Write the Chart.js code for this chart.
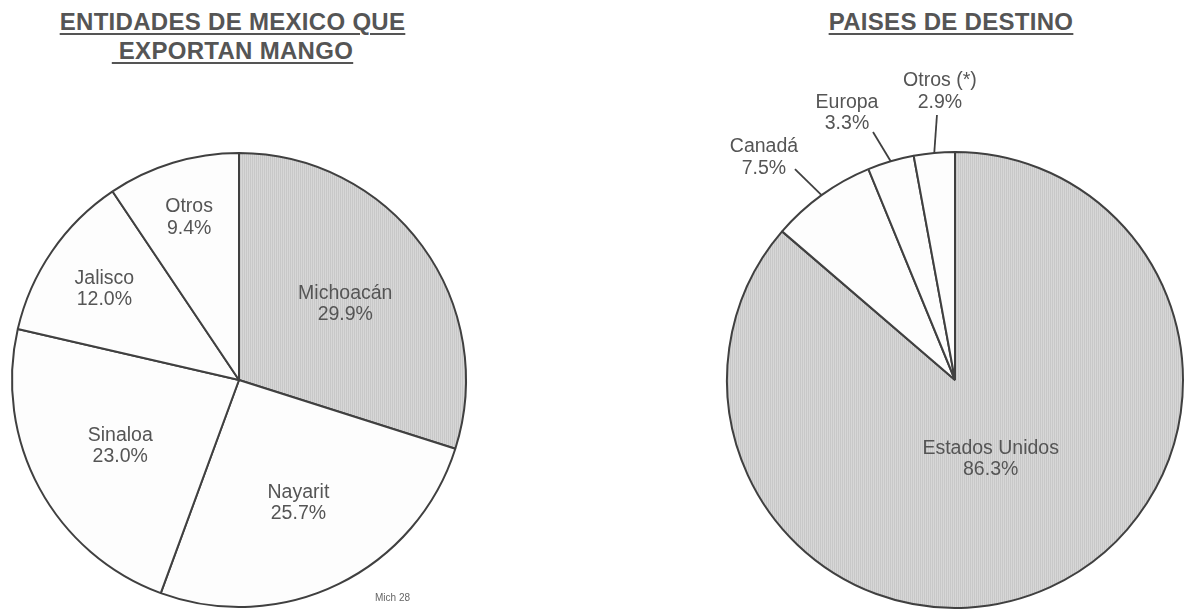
<!DOCTYPE html>
<html><head><meta charset="utf-8">
<script src="https://cdn.jsdelivr.net/npm/chart.js@4.4.0/dist/chart.umd.min.js"></script>
<style>
html,body{margin:0;padding:0;background:#fff;width:1185px;height:612px;overflow:hidden;position:relative;font-family:"Liberation Sans",Arial,sans-serif;}
canvas{position:absolute;top:0;}
.title{position:absolute;top:7px;font-weight:bold;font-size:24px;line-height:29px;letter-spacing:0.3px;color:#555;text-align:center;text-decoration:underline;text-decoration-thickness:2px;text-underline-offset:3px;white-space:pre;}
#note{position:absolute;left:375px;top:592px;font-size:10px;line-height:12px;color:#666;}
</style></head><body>
<div class="title" style="left:0;width:465px;">ENTIDADES DE MEXICO QUE<br> EXPORTAN MANGO</div>
<div class="title" style="left:717px;width:468px;">PAISES DE DESTINO</div>
<canvas id="c1" width="600" height="612" style="left:0"></canvas>
<canvas id="c2" width="585" height="612" style="left:600px"></canvas>
<div id="note">Mich 28</div>
<script>
// ---- data ----
const estados = ['Michoacán', 'Nayarit', 'Sinaloa', 'Jalisco', 'Otros'];
const estadosPct = [29.9, 25.7, 23.0, 12.0, 9.4];
const destinos = ['Estados Unidos', 'Canadá', 'Europa', 'Otros (*)'];
const destinosPct = [86.3, 7.5, 3.3, 2.9];

function stripes(ctx){
  const c = document.createElement('canvas'); c.width = 2; c.height = 1;
  const x = c.getContext('2d');
  x.fillStyle = '#c8c8c8'; x.fillRect(0,0,1,1);
  x.fillStyle = '#d7d7d7'; x.fillRect(1,0,1,1);
  return ctx.createPattern(c, 'repeat');
}
const WHITE = '#fdfdfd';

const labelPlugin = {
  id: 'sliceLabels',
  afterDatasetsDraw(chart, args, opts) {
    const ctx = chart.ctx;
    const meta = chart.getDatasetMeta(0);
    const labels = chart.data.labels;
    const values = chart.data.datasets[0].data;
    ctx.save();
    ctx.font = opts.font;
    ctx.fillStyle = opts.color;
    ctx.textAlign = 'center';
    ctx.textBaseline = 'alphabetic';
    meta.data.forEach((arc, i) => {
      const p = arc.getProps(['x','y','startAngle','endAngle','outerRadius'], true);
      const mid = (p.startAngle + p.endAngle) / 2;
      const ux = Math.cos(mid), uy = Math.sin(mid);
      const place = opts.placement[i];
      let cx, cy;
      if (place.outside) {
        const ax = p.x + ux * p.outerRadius, ay = p.y + uy * p.outerRadius;
        ctx.strokeStyle = opts.lineColor; ctx.lineWidth = opts.lineWidth;
        ctx.beginPath(); ctx.moveTo(ax, ay);
        ctx.lineTo(ax + place.leader[0], ay + place.leader[1]); ctx.stroke();
        cx = ax + place.text[0]; cy = ay + place.text[1];
      } else {
        cx = p.x + ux * p.outerRadius * place.r;
        cy = p.y + uy * p.outerRadius * place.r;
      }
      const lh = opts.lineHeight, cap = opts.capHalf;
      ctx.fillText(labels[i], cx, cy - lh / 2 + cap);
      ctx.fillText(values[i].toFixed(1) + '%', cx, cy + lh / 2 + cap);
    });
    ctx.restore();
  }
};

function makePie(id, labels, values, colors, radius, padding, placement) {
  const ctx = document.getElementById(id).getContext('2d');
  return new Chart(ctx, {
    type: 'pie',
    data: { labels: labels, datasets: [{ data: values, backgroundColor: colors(ctx),
      borderColor: '#404040', borderWidth: 2 }] },
    options: {
      responsive: false, animation: false, events: [],
      radius: radius,
      layout: { padding: padding },
      plugins: {
        legend: { display: false }, tooltip: { enabled: false },
        sliceLabels: { font: '19.5px "Liberation Sans", Arial, sans-serif', color: '#555555',
          lineHeight: 21.5, capHalf: 7, lineColor: '#404040', lineWidth: 1.8, placement: placement }
      }
    },
    plugins: [labelPlugin]
  });
}

makePie('c1', estados, estadosPct,
  ctx => [stripes(ctx), WHITE, WHITE, WHITE, WHITE],
  227, { left: 0, right: 122, top: 148, bottom: 0 },
  [{ r: 0.58 }, { r: 0.595 }, { r: 0.595 }, { r: 0.72 }, { r: 0.755 }]);

makePie('c2', destinos, destinosPct,
  ctx => [stripes(ctx), WHITE, WHITE, WHITE],
  228, { left: 125, right: 0, top: 148, bottom: 0 },
  [{ r: 0.375 },
   { outside: true, leader: [-26.6, -26.1], text: [-57.6, -39.1] },
   { outside: true, leader: [-17.7, -29.3], text: [-43.7, -49.8] },
   { outside: true, leader: [2.7, -37.9], text: [5.7, -62.9] }]);
</script>
</body></html>
